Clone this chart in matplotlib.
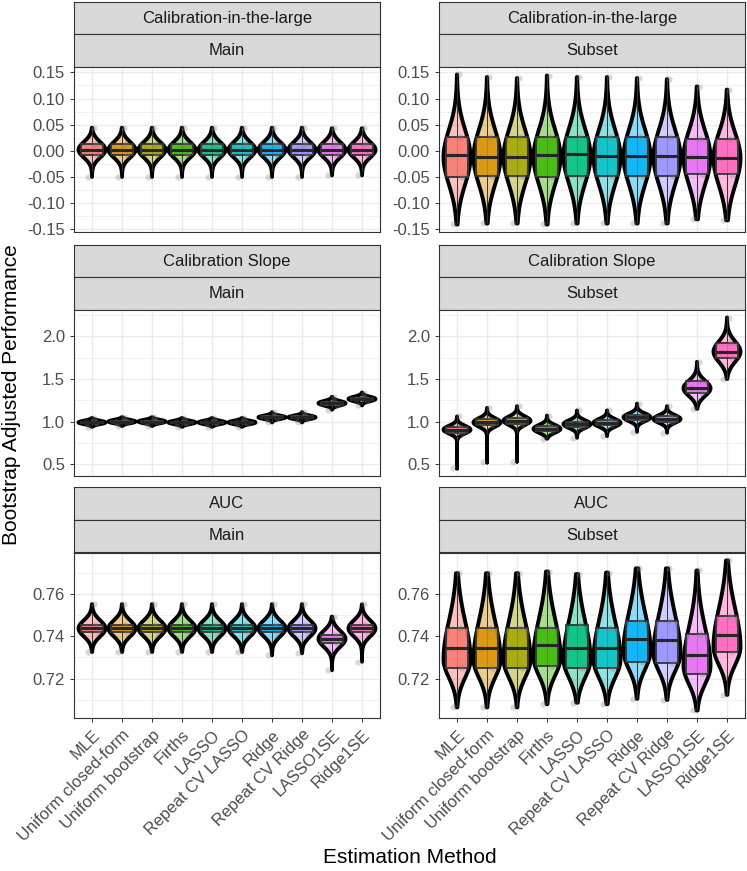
import numpy as np
import matplotlib
matplotlib.use("Agg")
import matplotlib.pyplot as plt
from matplotlib.colors import to_rgba
from matplotlib.patches import Rectangle

plt.rcParams['font.family'] = ['Liberation Sans', 'DejaVu Sans']

methods = ["MLE", "Uniform closed-form", "Uniform bootstrap", "Firths", "LASSO",
           "Repeat CV LASSO", "Ridge", "Repeat CV Ridge", "LASSO1SE", "Ridge1SE"]
colours = ["#F8766D", "#D89000", "#A3A500", "#39B600", "#00BF7D",
           "#00BFC4", "#00B0F6", "#9590FF", "#E76BF3", "#FF62BC"]

# --- Calibration-in-the-large, Main
citl_main_lo = [-0.050, -0.050, -0.050, -0.050, -0.050, -0.050, -0.050, -0.050, -0.047, -0.047]
citl_main_q1 = [-0.008] * 10
citl_main_med = [0.002] * 10
citl_main_q3 = [0.013] * 10
citl_main_hi = [0.044, 0.044, 0.044, 0.044, 0.044, 0.044, 0.044, 0.044, 0.043, 0.043]
citl_main_peak = [0.002] * 10
citl_main_sdlo = [0.015] * 10
citl_main_sdhi = [0.015] * 10

# --- Calibration-in-the-large, Subset
citl_sub_lo = [-0.141, -0.139, -0.139, -0.141, -0.139, -0.139, -0.139, -0.139, -0.131, -0.133]
citl_sub_q1 = [-0.050, -0.049, -0.049, -0.050, -0.049, -0.049, -0.049, -0.049, -0.044, -0.044]
citl_sub_med = [-0.008, -0.011, -0.011, -0.008, -0.007, -0.009, -0.009, -0.009, -0.012, -0.014]
citl_sub_q3 = [0.026, 0.026, 0.026, 0.026, 0.026, 0.026, 0.026, 0.026, 0.023, 0.023]
citl_sub_hi = [0.146, 0.141, 0.139, 0.144, 0.141, 0.141, 0.139, 0.137, 0.123, 0.117]
citl_sub_peak = [-0.012, -0.012, -0.012, -0.012, -0.010, -0.012, -0.012, -0.012, -0.012, -0.014]
citl_sub_sdlo = [0.052] * 10
citl_sub_sdhi = [0.052, 0.052, 0.052, 0.052, 0.052, 0.052, 0.052, 0.052, 0.050, 0.048]

# --- Calibration Slope, Main
cs_main_lo = [0.94, 0.95, 0.95, 0.94, 0.94, 0.94, 0.99, 0.99, 1.14, 1.19]
cs_main_q1 = [0.98, 0.99, 0.99, 0.98, 0.98, 0.98, 1.04, 1.04, 1.20, 1.25]
cs_main_med = [0.99, 1.00, 1.00, 0.99, 0.99, 0.99, 1.05, 1.05, 1.215, 1.265]
cs_main_q3 = [1.00, 1.01, 1.01, 1.00, 1.00, 1.00, 1.06, 1.06, 1.23, 1.28]
cs_main_hi = [1.04, 1.05, 1.05, 1.04, 1.04, 1.04, 1.11, 1.11, 1.29, 1.34]
cs_main_peak = [0.99, 1.00, 1.00, 0.99, 0.99, 0.99, 1.05, 1.05, 1.215, 1.265]
cs_main_sdlo = [0.020, 0.020, 0.020, 0.020, 0.020, 0.020, 0.020, 0.020, 0.026, 0.026]
cs_main_sdhi = [0.020, 0.020, 0.020, 0.020, 0.020, 0.020, 0.020, 0.020, 0.026, 0.026]

# --- Calibration Slope, Subset
cs_sub_lo = [0.45, 0.52, 0.53, 0.80, 0.81, 0.83, 0.88, 0.87, 1.15, 1.50]
cs_sub_q1 = [0.87, 0.955, 0.975, 0.885, 0.94, 0.955, 1.02, 1.00, 1.33, 1.74]
cs_sub_med = [0.905, 0.99, 1.01, 0.915, 0.97, 0.985, 1.05, 1.03, 1.39, 1.82]
cs_sub_q3 = [0.935, 1.025, 1.045, 0.945, 1.00, 1.015, 1.08, 1.06, 1.47, 1.92]
cs_sub_hi = [1.06, 1.16, 1.18, 1.07, 1.13, 1.13, 1.21, 1.18, 1.70, 2.22]
cs_sub_peak = [0.905, 0.99, 1.01, 0.915, 0.97, 0.985, 1.05, 1.03, 1.39, 1.82]
cs_sub_sdlo = [0.045, 0.050, 0.050, 0.045, 0.045, 0.045, 0.045, 0.045, 0.090, 0.120]
cs_sub_sdhi = [0.045, 0.050, 0.050, 0.045, 0.045, 0.045, 0.045, 0.045, 0.090, 0.120]

# --- AUC, Main
auc_main_lo = [0.7326, 0.7326, 0.7326, 0.7326, 0.7326, 0.7326, 0.7310, 0.7320, 0.7240, 0.7280]
auc_main_q1 = [0.7420, 0.7420, 0.7420, 0.7420, 0.7420, 0.7420, 0.7420, 0.7420, 0.7370, 0.7420]
auc_main_med = [0.7437, 0.7437, 0.7437, 0.7437, 0.7437, 0.7437, 0.7437, 0.7437, 0.7388, 0.7437]
auc_main_q3 = [0.7453, 0.7453, 0.7453, 0.7453, 0.7453, 0.7453, 0.7453, 0.7453, 0.7405, 0.7453]
auc_main_hi = [0.7551, 0.7551, 0.7551, 0.7551, 0.7551, 0.7551, 0.7551, 0.7551, 0.7492, 0.7550]
auc_main_peak = [0.7437, 0.7437, 0.7437, 0.7437, 0.7437, 0.7437, 0.7437, 0.7437, 0.7388, 0.7437]
auc_main_sdlo = [0.0038] * 10
auc_main_sdhi = [0.0038] * 10

# --- AUC, Subset
auc_sub_lo = [0.7065, 0.7065, 0.7065, 0.7080, 0.7087, 0.7080, 0.7105, 0.7100, 0.7050, 0.7124]
auc_sub_q1 = [0.7252, 0.7252, 0.7252, 0.7260, 0.7252, 0.7252, 0.7280, 0.7275, 0.7224, 0.7327]
auc_sub_med = [0.7345, 0.7345, 0.7345, 0.7360, 0.7345, 0.7345, 0.7385, 0.7380, 0.7310, 0.7405]
auc_sub_q3 = [0.7441, 0.7441, 0.7441, 0.7440, 0.7455, 0.7441, 0.7470, 0.7470, 0.7410, 0.7494]
auc_sub_hi = [0.7697, 0.7697, 0.7697, 0.7705, 0.7693, 0.7700, 0.7720, 0.7720, 0.7710, 0.7757]
auc_sub_peak = [0.7290, 0.7290, 0.7290, 0.7300, 0.7290, 0.7290, 0.7330, 0.7320, 0.7260, 0.7350]
auc_sub_sdlo = [0.0085] * 10
auc_sub_sdhi = [0.0180] * 10

panels = [
    ("Calibration-in-the-large", "Main", citl_main_lo, citl_main_q1, citl_main_med, citl_main_q3, citl_main_hi, citl_main_peak, citl_main_sdlo, citl_main_sdhi),
    ("Calibration-in-the-large", "Subset", citl_sub_lo, citl_sub_q1, citl_sub_med, citl_sub_q3, citl_sub_hi, citl_sub_peak, citl_sub_sdlo, citl_sub_sdhi),
    ("Calibration Slope", "Main", cs_main_lo, cs_main_q1, cs_main_med, cs_main_q3, cs_main_hi, cs_main_peak, cs_main_sdlo, cs_main_sdhi),
    ("Calibration Slope", "Subset", cs_sub_lo, cs_sub_q1, cs_sub_med, cs_sub_q3, cs_sub_hi, cs_sub_peak, cs_sub_sdlo, cs_sub_sdhi),
    ("AUC", "Main", auc_main_lo, auc_main_q1, auc_main_med, auc_main_q3, auc_main_hi, auc_main_peak, auc_main_sdlo, auc_main_sdhi),
    ("AUC", "Subset", auc_sub_lo, auc_sub_q1, auc_sub_med, auc_sub_q3, auc_sub_hi, auc_sub_peak, auc_sub_sdlo, auc_sub_sdhi),
]

row_ticks = [[-0.15, -0.10, -0.05, 0.00, 0.05, 0.10, 0.15], [0.5, 1.0, 1.5, 2.0], [0.72, 0.74, 0.76]]
row_fmt = ["%.2f", "%.1f", "%.2f"]

W, H = 747, 871
fig = plt.figure(figsize=(W / 100, H / 100), dpi=100)


def px_axes(x0, y0, x1, y1):
    return fig.add_axes([x0 / W, 1 - y1 / H, (x1 - x0) / W, (y1 - y0) / H])


col_x = [(74, 380), (439, 745)]
row_y = [(2, 67, 232), (245, 310, 476), (487, 553, 718)]
strip_h = 32.5

for i, (metric, dset, lo, q1, med, q3, hi, peak, sdlo, sdhi) in enumerate(panels):
    r, c = i // 2, i % 2
    x0, x1 = col_x[c]
    ys, yp, yb = row_y[r]

    # strips
    for k, label in enumerate([metric, dset]):
        sa = px_axes(x0, ys + k * strip_h, x1, ys + (k + 1) * strip_h)
        sa.set_facecolor("#D9D9D9")
        sa.set_xticks([]); sa.set_yticks([])
        for sp in sa.spines.values():
            sp.set_color("#333333"); sp.set_linewidth(0.8)
        sa.text(0.5, 0.5, label, ha="center", va="center", fontsize=12,
                color="#1A1A1A", transform=sa.transAxes)

    ax = px_axes(x0, yp, x1, yb)
    ax.set_axisbelow(True)

    # row limits from both panels of the row
    rlo = min(panels[2 * r][2] + panels[2 * r + 1][2])
    rhi = max(panels[2 * r][6] + panels[2 * r + 1][6])
    pad = 0.05 * (rhi - rlo)
    ax.set_ylim(rlo - pad, rhi + pad)
    ax.set_xlim(0.4, len(methods) + 0.6)

    ticks = row_ticks[r]
    ax.set_yticks(ticks)
    ax.set_yticklabels([row_fmt[r] % t for t in ticks])
    step = ticks[1] - ticks[0]
    minors = [t + step / 2 for t in [ticks[0] - step] + ticks]
    ax.set_yticks([m for m in minors if rlo - pad < m < rhi + pad], minor=True)
    ax.set_xticks(np.arange(1, len(methods) + 1))
    ax.grid(which="major", color="#EBEBEB", lw=1.0)
    ax.grid(which="minor", axis="y", color="#EBEBEB", lw=0.5)

    for j in range(len(methods)):
        x = j + 1
        y = np.linspace(lo[j], hi[j], 300)
        dens = np.where(y < peak[j],
                        np.exp(-0.5 * ((y - peak[j]) / sdlo[j]) ** 2),
                        np.exp(-0.5 * ((y - peak[j]) / sdhi[j]) ** 2))
        half = 0.45 * dens / dens.max()
        ax.fill(np.r_[x - half, (x + half)[::-1]], np.r_[y, y[::-1]],
                facecolor=to_rgba(colours[j], 0.45), edgecolor="black",
                lw=2.8, joinstyle="round", zorder=2)

        iqr = q3[j] - q1[j]
        wlo = max(lo[j], q1[j] - 1.5 * iqr)
        whi = min(hi[j], q3[j] + 1.5 * iqr)
        ax.vlines(x, wlo, whi, color="#333333", lw=0.7, zorder=3)
        ax.add_patch(Rectangle((x - 0.375, q1[j]), 0.75, iqr,
                               facecolor=to_rgba(colours[j], 0.85),
                               edgecolor="#333333", lw=1.3, zorder=4))
        pts = [lo[j], q1[j], med[j], q3[j], hi[j]]
        ax.scatter(x + np.array([-0.12, 0.18, -0.2, 0.1, 0.05]), pts, s=20,
                   color="grey", alpha=0.3, lw=0, zorder=5)
        ax.hlines(med[j], x - 0.375, x + 0.375, color="#262626", lw=2.2, zorder=6)

    for sp in ax.spines.values():
        sp.set_color("#333333"); sp.set_linewidth(0.8)
    ax.tick_params(which="major", length=3, width=0.7, color="#333333",
                   labelsize=12, labelcolor="#4D4D4D")
    ax.tick_params(which="minor", length=0)
    if r < 2:
        ax.tick_params(axis="x", length=0, labelbottom=False)
    else:
        ax.set_xticklabels(methods, rotation=45, ha="right", va="top",
                           rotation_mode="anchor")

fig.text(12 / W, 1 - 395 / H, "Bootstrap Adjusted Performance", rotation=90,
         ha="center", va="center", fontsize=15)
fig.text(410 / W, 1 - 857 / H, "Estimation Method", ha="center", va="center",
         fontsize=15)

fig.savefig("out.png", dpi=100)
